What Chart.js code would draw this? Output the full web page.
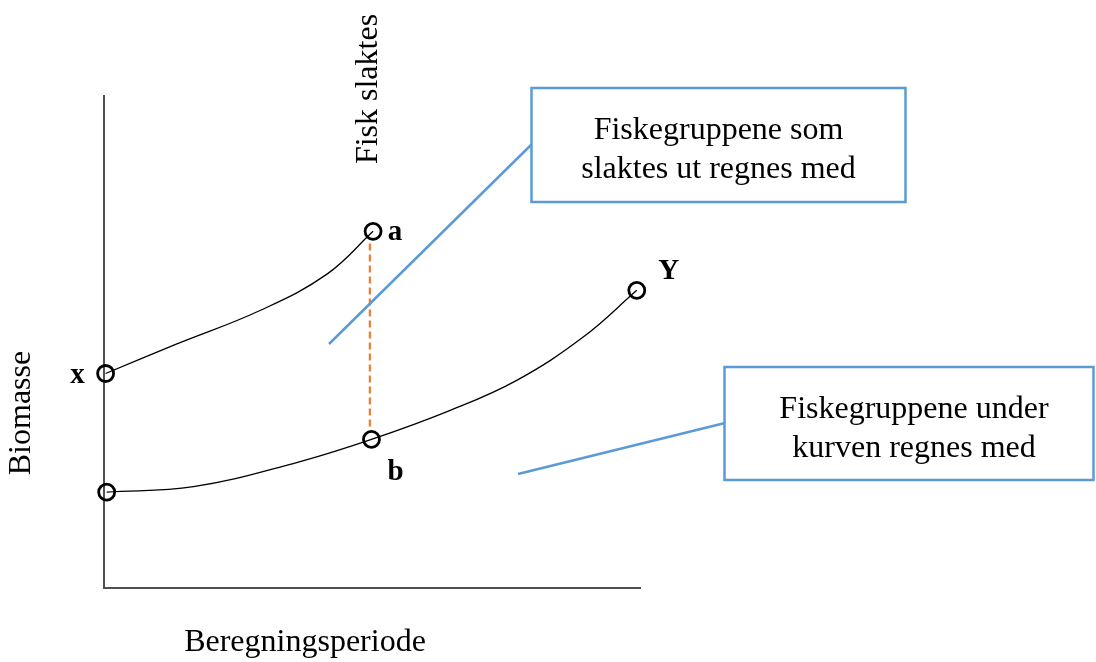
<!DOCTYPE html>
<html><head><meta charset="utf-8">
<script src="https://cdn.jsdelivr.net/npm/chart.js@4"></script>
<style>html,body{margin:0;padding:0;background:#fff}#wrap{position:relative;width:1096px;height:662px}</style>
</head><body><div id="wrap"><canvas id="c" width="1096" height="662"></canvas></div>
<script>
// Conceptual data (arbitrary units: x = time within period, y = biomass)
const upperX = [0.3, 13.6, 29.1, 41.6, 50.2];
const upperY = [43.6, 49.6, 56.4, 63.8, 72.5];
const upperRadius = [8, 0, 0, 0, 8];
const lowerX = [0.5, 16.7, 35.3, 49.9, 64.6, 77.0, 89.4, 99.4];
const lowerY = [19.5, 20.6, 25.3, 30.2, 36.1, 42.2, 51.0, 60.5];
const lowerRadius = [8, 0, 0, 8, 0, 0, 0, 8];
const harvestX = [49.6, 49.6];
const harvestY = [70.0, 32.0];

const xTitle = 'Beregningsperiode';
const yTitle = 'Biomasse';
const harvestTitle = 'Fisk slaktes';
const box1Lines = ['Fiskegruppene som', 'slaktes ut regnes med'];
const box2Lines = ['Fiskegruppene under', 'kurven regnes med'];
const labelX = 'x', labelA = 'a', labelB = 'b', labelY = 'Y';

const toPts = (xs, ys) => xs.map((x, i) => ({x: x, y: ys[i]}));

const SERIF = '"Liberation Serif", "Times New Roman", serif';
const BLUE = '#5B9BD5';

const annot = {
  id: 'annot',
  afterDraw(chart) {
    const ctx = chart.ctx;
    const up = chart.getDatasetMeta(0).data;
    const lo = chart.getDatasetMeta(1).data;
    ctx.save();
    // connector lines
    ctx.strokeStyle = BLUE; ctx.lineWidth = 2.5; ctx.lineCap = 'butt';
    ctx.beginPath(); ctx.moveTo(329, 344); ctx.lineTo(532, 144); ctx.stroke();
    ctx.beginPath(); ctx.moveTo(518, 474); ctx.lineTo(725, 423); ctx.stroke();
    // boxes
    const box = (x, y, w, h, lines, cx, b1) => {
      ctx.fillStyle = '#fff'; ctx.fillRect(x, y, w, h);
      ctx.strokeStyle = BLUE; ctx.lineWidth = 2.5; ctx.strokeRect(x, y, w, h);
      ctx.fillStyle = '#000'; ctx.font = '32px ' + SERIF;
      ctx.textAlign = 'center'; ctx.textBaseline = 'alphabetic';
      lines.forEach((t, i) => ctx.fillText(t, cx, b1 + i * 38.5));
    };
    box(531.5, 88, 374, 114, box1Lines, 718.5, 139);
    box(724.5, 367, 369, 113, box2Lines, 914, 418);
    // point labels
    ctx.fillStyle = '#000'; ctx.font = 'bold 29px ' + SERIF;
    ctx.textAlign = 'center'; ctx.textBaseline = 'alphabetic';
    const p0 = up[0], pa = up[up.length - 1], pb = lo[3], py = lo[lo.length - 1];
    ctx.fillText(labelX, p0.x - 28, p0.y + 10);
    ctx.fillText(labelA, pa.x + 22, pa.y + 9);
    ctx.fillText(labelB, pb.x + 24, pb.y + 41);
    ctx.fillText(labelY, py.x + 32, py.y - 11);
    // titles
    ctx.font = '32px ' + SERIF;
    ctx.fillText(xTitle, 305, 651);
    const rot = (t, x, y) => { ctx.save(); ctx.translate(x, y); ctx.rotate(-Math.PI / 2); ctx.textAlign = 'center'; ctx.textBaseline = 'middle'; ctx.fillText(t, 0, 0); ctx.restore(); };
    rot(yTitle, 22, 413);
    rot(harvestTitle, 369, 89);
    ctx.restore();
  }
};

new Chart(document.getElementById('c'), {
  type: 'scatter',
  data: {
    datasets: [
      { data: toPts(upperX, upperY), showLine: true, tension: 0.4, borderColor: '#000', borderWidth: 1.3,
        pointRadius: upperRadius, pointBorderWidth: 2.8, pointBorderColor: '#000', pointBackgroundColor: 'rgba(0,0,0,0)', clip: false },
      { data: toPts(lowerX, lowerY), showLine: true, tension: 0.4, borderColor: '#000', borderWidth: 1.3,
        pointRadius: lowerRadius, pointBorderWidth: 2.8, pointBorderColor: '#000', pointBackgroundColor: 'rgba(0,0,0,0)', clip: false },
      { data: toPts(harvestX, harvestY), showLine: true, borderColor: '#ED7D31', borderWidth: 2.2, borderDash: [7, 4],
        pointRadius: 0, clip: false }
    ]
  },
  options: {
    responsive: false, animation: false, devicePixelRatio: 1,
    layout: { padding: { left: 104, right: 456, top: 96, bottom: 74 } },
    plugins: { legend: { display: false }, tooltip: { enabled: false } },
    scales: {
      x: { type: 'linear', min: 0, max: 100, grid: { display: false, drawTicks: false },
           ticks: { display: false }, border: { display: true, color: '#505050', width: 2 } },
      y: { type: 'linear', min: 0, max: 100, grid: { display: false, drawTicks: false },
           ticks: { display: false }, border: { display: true, color: '#505050', width: 2 } }
    }
  },
  plugins: [annot]
});
</script></body></html>
